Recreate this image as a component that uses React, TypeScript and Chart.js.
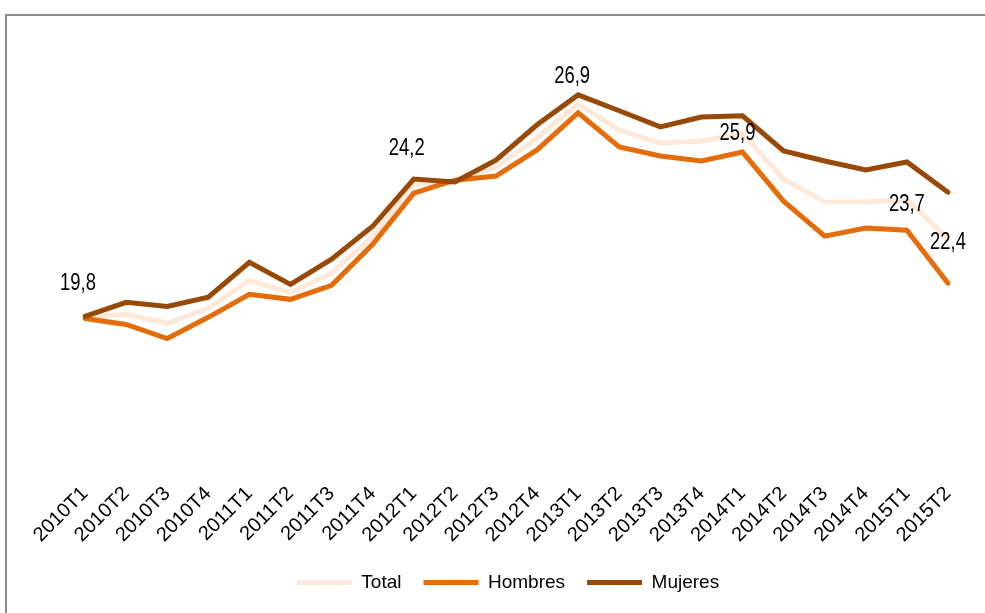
import React, { useEffect, useRef } from 'react';
import { Chart, registerables } from 'chart.js';

Chart.register(...registerables);

const categories = [
  '2010T1', '2010T2', '2010T3', '2010T4',
  '2011T1', '2011T2', '2011T3', '2011T4',
  '2012T1', '2012T2', '2012T3', '2012T4',
  '2013T1', '2013T2', '2013T3', '2013T4',
  '2014T1', '2014T2', '2014T3', '2014T4',
  '2015T1', '2015T2',
];

const total = [
  19.8, 19.87, 19.57, 20.07,
  21.0, 20.6, 21.24, 22.48,
  24.2, 24.32, 24.79, 25.76,
  26.9, 26.03, 25.59, 25.66,
  25.9, 24.39, 23.62, 23.62,
  23.7, 22.4,
];

const hombres = [
  19.73, 19.53, 19.06, 19.77,
  20.54, 20.37, 20.84, 22.21,
  23.92, 24.35, 24.49, 25.36,
  26.6, 25.46, 25.16, 24.99,
  25.29, 23.65, 22.48, 22.75,
  22.68, 20.91,
];

const mujeres = [
  19.8, 20.27, 20.13, 20.44,
  21.61, 20.87, 21.71, 22.81,
  24.39, 24.29, 25.02, 26.2,
  27.2, 26.67, 26.13, 26.46,
  26.5, 25.33, 24.99, 24.69,
  24.96, 23.95,
];

// indices of the Total points that carry a value label
const labeledPoints = [0, 8, 12, 16, 20, 21];

const FONT = "'Liberation Sans Narrow', 'Arial Narrow', 'Liberation Sans', Arial, sans-serif";

const labelPlugin = {
  id: 'totalLabels',
  afterDatasetsDraw(chart: any, _args: any, opts: any) {
    const meta = chart.getDatasetMeta(0);
    const ctx = chart.ctx;
    labeledPoints.forEach((idx, k) => {
      const el = meta.data[idx];
      const off = opts.offsets[k] || [0, 0];
      const txt = total[idx].toFixed(1).replace('.', ',');
      ctx.save();
      ctx.font = `${opts.size}px ${FONT}`;
      ctx.fillStyle = '#000000';
      ctx.textAlign = 'center';
      ctx.textBaseline = 'middle';
      ctx.translate(el.x + off[0], el.y + off[1]);
      ctx.scale(opts.squeeze, 1);
      ctx.fillText(txt, 0, 0);
      ctx.restore();
    });
  },
};

const hiddenAxis = (width: number, position: 'left' | 'right') => ({
  display: true,
  position,
  min: 14.3,
  max: 29,
  grid: { display: false },
  border: { display: false },
  ticks: { display: false },
  afterFit: (s: any) => {
    s.width = width;
  },
});

export default function App() {
  const ref = useRef<HTMLCanvasElement | null>(null);

  useEffect(() => {
    if (!ref.current) return;
    const common = {
      borderWidth: 5,
      pointRadius: 0,
      pointHoverRadius: 0,
      tension: 0,
      borderCapStyle: 'round' as const,
      borderJoinStyle: 'miter' as const,
    };
    const chart = new Chart(ref.current, {
      type: 'line',
      data: {
        labels: categories,
        datasets: [
          { label: 'Total', data: total, borderColor: '#FDE9D9', backgroundColor: '#FDE9D9', order: 3, ...common },
          { label: 'Hombres', data: hombres, borderColor: '#E46C0A', backgroundColor: '#E46C0A', order: 2, ...common },
          { label: 'Mujeres', data: mujeres, borderColor: '#984807', backgroundColor: '#984807', order: 1, ...common },
        ],
      },
      options: {
        responsive: false,
        animation: false,
        devicePixelRatio: 1,
        layout: { padding: { top: 41, left: 31, right: 0, bottom: 11 } },
        scales: {
          x: {
            offset: false,
            grid: { display: false },
            border: { display: false },
            ticks: {
              color: '#000000',
              font: { family: FONT, size: 20 },
              minRotation: 45,
              maxRotation: 45,
              autoSkip: false,
              padding: -7,
            },
            afterFit: (s: any) => {
              s.height = s.height + 11;
            },
          },
          y: hiddenAxis(54, 'left'),
          y2: hiddenAxis(37, 'right'),
        } as any,
        plugins: {
          legend: {
            position: 'bottom',
            labels: {
              usePointStyle: true,
              pointStyle: 'line',
              pointStyleWidth: 55,
              color: '#000000',
              font: { family: FONT, size: 19 },
              padding: 22,
              sort: (a: any, b: any) => a.datasetIndex - b.datasetIndex,
            },
          },
          tooltip: { enabled: false },
          totalLabels: {
            size: 23,
            squeeze: 0.8,
            offsets: [[-7, -33], [-7, -36], [-6, -27], [-5, 0], [0, 5], [0, 4]],
          },
        } as any,
      },
      plugins: [labelPlugin],
    });
    return () => chart.destroy();
  }, []);

  return (
    <div style={{ position: 'absolute', left: 0, top: 0, width: 985, height: 613, overflow: 'hidden', background: '#ffffff' }}>
      <div
        style={{
          position: 'absolute',
          left: 5,
          top: 14,
          width: 1000,
          height: 620,
          borderTop: '2px solid #8c8c8c',
          borderLeft: '2px solid #8c8c8c',
        }}
      />
      <canvas ref={ref} width={985} height={613} style={{ position: 'absolute', left: 0, top: 0, width: 985, height: 613 }} />
    </div>
  );
}
